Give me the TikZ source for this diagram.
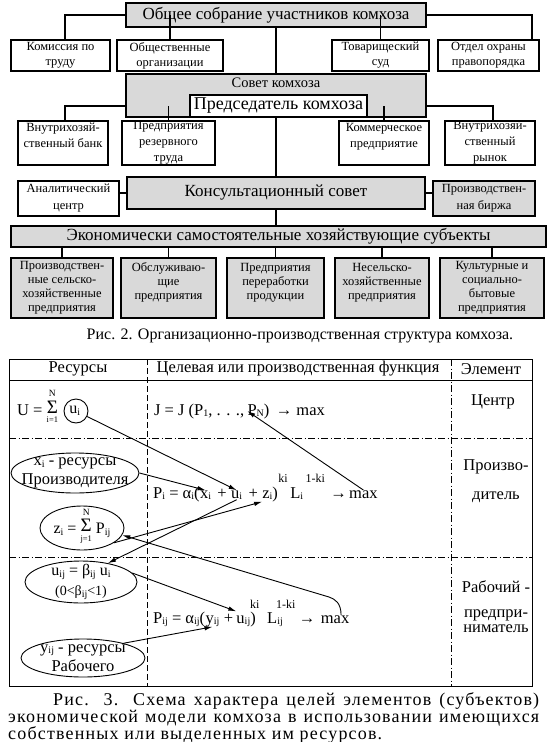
\documentclass[tikz,border=0pt]{standalone}
\usepackage{fontspec}
\setmainfont{Liberation Serif}
\usetikzlibrary{arrows.meta, shapes.geometric, positioning, calc}
\newcommand\fs[2]{\fontsize{#1}{#2}\selectfont}
\newcommand\ix[1]{\raisebox{-1.5pt}{\fs{10}{10}#1}}
\newcommand\slim[3]{\ensuremath{\mathop{\raisebox{2pt}{\fs{19}{19}#1}}\limits_{\raisebox{-1.5pt}{\fs{8.5}{8.5}#2}}^{\raisebox{2pt}{\fs{9.5}{9.5}#3}}}}

\begin{document}
\begin{tikzpicture}[x=1pt, y=-1pt,
    box/.style={draw, line width=1.3pt, inner sep=0pt, align=center,
                font=\fs{12.5}{15}},
    shd/.style={box, fill=black!15},
    big/.style={shd, font=\fs{17}{19}},
    ln/.style={line width=1.3pt},
    txt/.style={inner sep=0pt, align=center},
    ell/.style={ellipse, draw, line width=0.9pt, inner sep=0pt},
    fm/.style={inner sep=0pt, font=\fs{16.5}{16.5}},
    sup/.style={inner sep=0pt, font=\fs{12}{12}, anchor=base west},
    arr/.style={-{Latex[length=8pt,width=4.5pt]}, line width=0.9pt},
    tline/.style={line width=0.9pt},
    dd/.style={line width=0.7pt, dash pattern=on 7pt off 2.5pt on 1pt off 2.5pt},
    capt/.style={txt, anchor=base west, font=\fs{18}{18}\addfontfeature{LetterSpace=6.5}}
  ]
  \useasboundingbox (0,0) rectangle (549,742);

  % organisational chart
  \node[big, minimum width=300pt, minimum height=24pt] (gen) at (276,15)
    {Общее собрание участников комхоза};
  \node[box, minimum width=99pt, minimum height=31pt] (kom) at (60.5,55.5) {Комиссия по\\труду};
  \node[box, minimum width=106pt, minimum height=31pt] (obsh) at (170,55.5) {Общественные\\организации};
  \node[box, minimum width=97pt, minimum height=31pt] (tov) at (380.5,55.5) {Товарищеский\\суд};
  \node[box, minimum width=101pt, minimum height=31pt] (otd) at (488.5,55.5) {Отдел охраны\\правопорядка};

  \node[shd, minimum width=300pt, minimum height=43pt] (sov) at (276,95.5) {};
  \node[txt, font=\fs{14.5}{16}] (sovt) at (276,83) {Совет комхоза};
  \node[box, fill=white, font=\fs{18}{19}, minimum width=177pt, minimum height=22pt] (pred) at (278.5,106)
    {Председатель комхоза};

  \node[box, font=\fs{12.5}{16}, minimum width=90pt, minimum height=44pt] (bank) at (63,143) {Внутрихозяй-\\ственный банк\\~};
  \node[box, font=\fs{12.5}{16}, minimum width=93pt, minimum height=44pt] (rez) at (168.5,143) {Предприятия\\резервного\\труда};
  \node[box, font=\fs{12.5}{16}, minimum width=90pt, minimum height=44pt] (comm) at (384,143) {Коммерческое\\предприятие\\~};
  \node[box, font=\fs{12.5}{16}, minimum width=90pt, minimum height=44pt] (ryn) at (490,143) {Внутрихозяй-\\ственный\\рынок};

  \node[big, minimum width=298pt, minimum height=32pt] (kons) at (276,193) {Консультационный совет};
  \node[box, font=\fs{12.5}{17}, minimum width=101pt, minimum height=35pt] (anal) at (68.5,198.5) {Аналитический\\центр};
  \node[shd, font=\fs{12.5}{17}, minimum width=102pt, minimum height=35pt] (birzha) at (484,198.5) {Производствен-\\ная биржа};

  \node[big, minimum width=535pt, minimum height=21pt] (econ) at (278.5,236.5)
    {Экономически самостоятельные хозяйствующие субъекты};
  \node[shd, font=\fs{12.5}{14}, minimum width=102pt, minimum height=60pt] (b1) at (62,288) {Производствен-\\ные сельско-\\хозяйственные\\предприятия};
  \node[shd, font=\fs{12.5}{14}, minimum width=95pt, minimum height=60pt] (b2) at (168.5,288) {Обслуживаю-\\щие\\предприятия\\~};
  \node[shd, font=\fs{12.5}{14}, minimum width=97pt, minimum height=60pt] (b3) at (275.5,288) {Предприятия\\переработки\\продукции\\~};
  \node[shd, font=\fs{12.5}{14}, minimum width=94pt, minimum height=60pt] (b4) at (382,288) {Несельско-\\хозяйственные\\предприятия\\~};
  \node[shd, font=\fs{12.5}{14}, minimum width=104pt, minimum height=60pt] (b5) at (492,288) {Культурные и\\социально-\\бытовые\\предприятия};

  \draw[ln] (gen.west) -| ([xshift=4.5pt]kom.north) (obsh.north |- gen.west) -- (obsh.north)
    (gen.east) -| ([xshift=43.5pt]otd.north) (tov.north |- gen.east) -- (tov.north)
    (gen.south) -- (sov.north);
  \draw[ln] (sov.west |- pred) -| ([xshift=2pt]bank.north) (rez.north |- pred) -- (rez.north)
    (sov.east |- pred) -| ([xshift=3pt]ryn.north) (comm.north |- pred) -- (comm.north)
    (sov.south) -- (kons.north);
  \draw[ln] (kons.west) -- (kons.west -| anal.east) (kons.east) -- (kons.east -| birzha.west)
    (kons.south) -- (kons.south |- econ.north);
  \draw[ln] (b1.north |- econ.south) -- (b1.north) (b2.north |- econ.south) -- (b2.north)
    (b3.north |- econ.south) -- (b3.north) (b4.north |- econ.south) -- (b4.north)
    (b5.north |- econ.south) -- (b5.north);

  \node[txt, font=\fs{16}{18}] (cap1) at (300,336)
    {Рис. 2. Организационно-производственная структура комхоза.};

  % table of goals
  \draw[tline] (9,359) rectangle (532,686) (9,380) -- (532,380);
  \draw[line width=0.7pt, dash pattern=on 6pt off 3pt] (147,359) -- (147,686);
  \draw[dd] (451,359) -- (451,686) (9,438) -- (532,438) (9,557) -- (532,557);

  \node[txt, font=\fs{16.5}{18}] (hres) at (78,369) {Ресурсы};
  \node[txt, font=\fs{16.5}{18}] (hfun) at (298,369) {Целевая или производственная функция};
  \node[txt, font=\fs{16.5}{18}] (hel) at (491,369) {Элемент};
  \node[txt, font=\fs{16.5}{17}] (ecen) at (493,402) {Центр};
  \node[txt, font=\fs{16.5}{29}] (epro) at (496,481) {Произво-\\дитель};
  \node[txt, font=\fs{16.5}{17}] (erab) at (496,587) {Рабочий -};
  \node[txt, font=\fs{16.5}{15.5}] (epre) at (496,621) {предпри-\\ниматель};

  % resources
  \node[fm, anchor=base west] (usum) at (17,415) {U = \slim{Σ}{i=1}{N}};
  \node[circle, draw, line width=0.9pt, inner sep=0pt, minimum size=24pt, font=\fs{16}{16}] (uic) at (76,411) {u\ix{i}\,};
  \node[ell, minimum width=128pt, minimum height=40pt] (xi) at (75,473) {};
  \node[txt, font=\fs{16.5}{19}] (xit) at (xi) {x\ix{i} - ресурсы\\Производителя};
  \node[ell, minimum width=84pt, minimum height=44pt] (zi) at (82,528) {};
  \node[txt, font=\fs{16}{16}] (zit) at ([yshift=2pt]zi.center) {z\ix{i} = \slim{Σ}{j=1}{N} P\ix{ij}};
  \node[ell, minimum width=112pt, minimum height=42pt] (uij) at (81,582) {};
  \node[txt, font=\fs{16}{20}] (uijt) at (uij) {u\ix{ij} = β\ix{ij} u\ix{i}\\{\fs{14}{14}(0<β\ix{ij}<1)}};
  \node[ell, minimum width=124pt, minimum height=38pt] (yij) at (83,658) {};
  \node[txt, font=\fs{16.5}{19}] (yijt) at (yij) {y\ix{ij} - ресурсы\\Рабочего};

  % goal functions
  \node[fm, anchor=base west] (jA) at (154,415) {J = J (P\ix{1}, . . .,};
  \node[fm, base right=3pt of jA] (jN) {P\ix{N})};
  \node[fm, base right=6pt of jN] (jR) {→ max};

  \node[fm, anchor=base west] (pA) at (153,498) {P\ix{i} = α\ix{i}(};
  \node[fm, base right=0pt of pA] (px) {x\ix{i}};
  \node[fm, base right=6pt of px] (pp) {+};
  \node[fm, base right=4pt of pp] (pu) {u\ix{i}};
  \node[fm, base right=6pt of pu] (pq) {+};
  \node[fm, base right=4pt of pq] (pz) {z\ix{i})};
  \node[sup] (pk) at ([xshift=0pt,yshift=16pt]pz.base east) {ki};
  \node[fm, anchor=base west] (pL) at ([xshift=12pt]pz.base east) {L\ix{i}};
  \node[sup] (pk2) at ([xshift=2pt,yshift=16pt]pL.base east) {1-ki};
  \node[fm, anchor=base west] (parr) at ($(pk2.base east |- pL.base)+(5,0)$) {→};
  \node[fm, base right=2pt of parr] (pmax) {max};

  \node[fm, anchor=base west] (qA) at (153,623) {P\ix{ij} = α\ix{ij}(};
  \node[fm, base right=0pt of qA] (qy) {y\ix{ij}};
  \node[fm, base right=4pt of qy] (qp) {+};
  \node[fm, base right=3pt of qp] (qu) {u\ix{ij})};
  \node[sup] (qk) at ([xshift=-6pt,yshift=15pt]qu.base east) {ki};
  \node[fm, anchor=base west] (qL) at ([xshift=11pt]qu.base east) {L\ix{ij}};
  \node[sup] (qk2) at ([xshift=-7pt,yshift=15pt]qL.base east) {1-ki};
  \node[fm, anchor=base west] (qarr) at ($(qk2.base east |- qL.base)+(3,0)$) {→};
  \node[fm, base right=5pt of qarr] (qmax) {max};

  \draw[arr] (uic) -- (px.north -| pu.north);
  \draw[arr] (xi.east) -- (px.north);
  \draw[arr] (pmax.north) -- (jN.west);
  \draw[arr] (zi.-25) -- (pz.south west);
  \draw[arr] (pu.south) -- (uij.35);
  \draw[arr] (uij.10) -- (qu.north west);
  \draw[arr] ([xshift=6pt]qmax.north) .. controls +(0,-12) and +(6,2) .. +(-12,-18) -- (zi.-10);
  \draw[arr] (yij.20) -- (qy.south);

  % caption of the table
  \node[capt] (c2a) at (53,705)
    {\makebox[486pt][s]{Рис. 3. Схема характера целей элементов (субъектов)}};
  \node[capt] (c2b) at (8,722.5)
    {\makebox[531pt][s]{экономической модели комхоза в использовании имеющихся}};
  \node[capt] (c2c) at (8,739.5)
    {собственных или выделенных им ресурсов.};
\end{tikzpicture}
\end{document}
